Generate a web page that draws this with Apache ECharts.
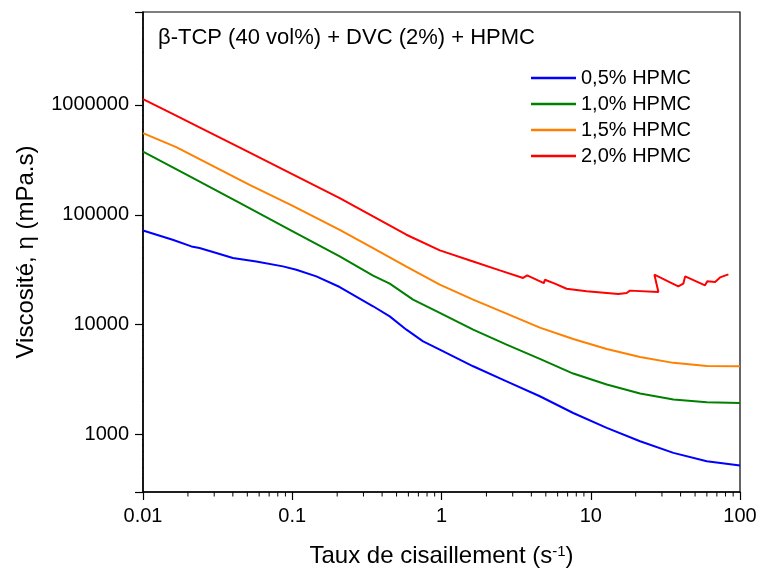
<!DOCTYPE html>
<html>
<head>
<meta charset="utf-8">
<script src="https://cdn.jsdelivr.net/npm/echarts@6/dist/echarts.min.js"></script>
<style>
html,body{margin:0;padding:0;background:#fff;}
#chart{width:758px;height:572px;}
</style>
</head>
<body>
<div id="chart"></div>
<script>
// ---- data ----
const seriesNames = ['0,5% HPMC', '1,0% HPMC', '1,5% HPMC', '2,0% HPMC'];
const seriesColors = ['#0000FF', '#008000', '#FF8000', '#FF0000'];

const shear05 = [0.01, 0.0158, 0.0211, 0.0239, 0.031, 0.040, 0.0574, 0.0866, 0.1065, 0.145, 0.208, 0.348, 0.45, 0.582, 0.753, 0.974, 1.63, 2.73, 4.56, 7.63, 12.8, 21.4, 35.8, 59.9, 100];
const visc05  = [72000, 59300, 51500, 49800, 44900, 40400, 37600, 33900, 31600, 27500, 22000, 14700, 11900, 9000, 7050, 5930, 4180, 3050, 2230, 1570, 1150, 869, 681, 571, 523];

const shear10 = [0.01, 0.02, 0.0444, 0.1, 0.208, 0.348, 0.45, 0.645, 0.974, 1.63, 2.73, 4.56, 7.63, 12.8, 21.4, 35.8, 59.9, 100];
const visc10  = [376000, 228000, 128000, 71100, 41800, 27900, 23600, 16900, 12800, 9010, 6580, 4880, 3590, 2850, 2360, 2080, 1970, 1940];

const shear15 = [0.01, 0.0167, 0.0518, 0.1, 0.208, 0.348, 0.582, 0.974, 1.63, 2.73, 4.56, 7.63, 12.8, 21.4, 35.8, 59.9, 100];
const visc15  = [553000, 412000, 187000, 121000, 73000, 49600, 33700, 23100, 16900, 12600, 9390, 7410, 6010, 5080, 4490, 4210, 4180];

const shear20 = [0.01, 0.0158, 0.0239, 0.05, 0.1, 0.208, 0.348, 0.582, 0.975, 1.63, 2.46, 3.52, 3.75, 4.85, 4.93, 5.75, 6.89, 9.39, 15.3, 17.4, 18.3, 28.4, 26.7, 34.0, 38.6, 41.7, 42.9, 58.3, 60.4, 68.1, 73.5, 83.6];
const visc20  = [1130000, 828000, 625000, 377000, 234000, 142000, 96500, 65800, 47400, 37600, 31200, 26600, 28100, 23900, 25600, 23600, 21200, 20100, 19000, 19400, 20400, 19800, 28500, 24300, 22300, 23600, 27500, 22800, 24800, 24500, 26900, 28700];

const xTickLabels = ['0.01', '0.1', '1', '10', '100'];
const yTickLabels = ['1000', '10000', '100000', '1000000'];
const minorMultipliers = [2, 3, 4, 5, 6, 7, 8, 9];

const chartTitle = 'β-TCP (40 vol%) + DVC (2%) + HPMC';
const xAxisName = 'Taux de cisaillement (s{sup|-1})';
const yAxisName = 'Viscosité, η (mPa.s)';

// ---- build ----
const FONT = "'Liberation Sans', Arial, sans-serif";
const X_MIN = 0.01, X_MAX = 100, Y_MIN = 300, Y_MAX = 7000000;
const GRID_W = 597, GRID_H = 480;
const MINOR_LEN_X = 4.5, MINOR_LEN_Y = 5;

function pickLabel(list, v) {
  for (let i = 0; i < list.length; i++) {
    const n = parseFloat(list[i]);
    if (Math.abs(Math.log(v) / Math.LN10 - Math.log(n) / Math.LN10) < 1e-6) return list[i];
  }
  return '';
}
function pairs(xs, ys) { return xs.map((x, i) => [x, ys[i]]); }

// minor tick values on each log axis
const xMinorVals = [], yMinorVals = [];
for (let d = -2; d < 2; d++) for (const m of minorMultipliers) {
  const v = +(m * Math.pow(10, d)).toPrecision(6);
  if (v > X_MIN && v < X_MAX) xMinorVals.push(v);
}
for (let d = 2; d < 7; d++) for (const m of minorMultipliers) {
  const v = m * Math.pow(10, d);
  if (v > Y_MIN && v < Y_MAX) yMinorVals.push(v);
}
// values just outside the axis lines (tick length expressed on the log scale)
const yBelowAxis = Y_MIN * Math.pow(Y_MAX / Y_MIN, -MINOR_LEN_X / GRID_H);
const xLeftOfAxis = X_MIN * Math.pow(X_MAX / X_MIN, -MINOR_LEN_Y / GRID_W);

const minorTickSeries = [];
xMinorVals.forEach(v => minorTickSeries.push({
  type: 'line', silent: true, clip: false, symbol: 'none', showSymbol: false,
  z: 3, legendHoverLink: false, animation: false,
  lineStyle: {color: '#000', width: 1}, itemStyle: {color: '#000'},
  data: [[v, Y_MIN], [v, yBelowAxis]]
}));
yMinorVals.forEach(v => minorTickSeries.push({
  type: 'line', silent: true, clip: false, symbol: 'none', showSymbol: false,
  z: 3, legendHoverLink: false, animation: false,
  lineStyle: {color: '#000', width: 1}, itemStyle: {color: '#000'},
  data: [[X_MIN, v], [xLeftOfAxis, v]]
}));

const allX = [shear05, shear10, shear15, shear20];
const allY = [visc05, visc10, visc15, visc20];

const chart = echarts.init(document.getElementById('chart'), null, {renderer: 'canvas'});
chart.setOption({
  animation: false,
  backgroundColor: '#ffffff',
  tooltip: {show: false},
  title: {
    text: chartTitle,
    left: 158, top: 27, padding: 0,
    textStyle: {fontFamily: FONT, fontSize: 22, fontWeight: 'normal', color: '#000'}
  },
  legend: {
    orient: 'vertical',
    left: 531, top: 68, padding: 0,
    itemWidth: 45, itemHeight: 2.5, itemGap: 6,
    icon: 'rect',
    textStyle: {fontFamily: FONT, fontSize: 20, color: '#000', lineHeight: 20},
    data: seriesNames
  },
  grid: {
    left: 143, top: 12, width: GRID_W, height: GRID_H,
    show: true, borderColor: '#000', borderWidth: 1.2,
    outerBoundsMode: 'none'
  },
  xAxis: {
    type: 'log', min: X_MIN, max: X_MAX,
    name: xAxisName, nameLocation: 'middle', nameGap: 52,
    nameTextStyle: {fontFamily: FONT, fontSize: 24, color: '#000',
      rich: {sup: {fontFamily: FONT, fontSize: 15, verticalAlign: 'top', color: '#000', padding: [0, 0, 10, 0]}}},
    axisLine: {show: true, lineStyle: {color: '#000', width: 1.5}},
    axisTick: {show: true, length: 8, lineStyle: {color: '#000', width: 1.2}},
    axisLabel: {fontFamily: FONT, fontSize: 20, color: '#000', margin: 14,
      formatter: v => pickLabel(xTickLabels, v)},
    splitLine: {show: false}
  },
  yAxis: {
    type: 'log', min: Y_MIN, max: Y_MAX,
    name: yAxisName, nameLocation: 'middle', nameGap: 105, nameRotate: 90,
    nameTextStyle: {fontFamily: FONT, fontSize: 24, color: '#000'},
    axisLine: {show: true, lineStyle: {color: '#000', width: 1.5}},
    axisTick: {show: true, length: 8, lineStyle: {color: '#000', width: 1.2}},
    axisLabel: {fontFamily: FONT, fontSize: 20, color: '#000', margin: 14,
      formatter: v => pickLabel(yTickLabels, v)},
    splitLine: {show: false}
  },
  series: seriesNames.map((name, i) => ({
    name: name,
    type: 'line',
    data: pairs(allX[i], allY[i]),
    showSymbol: false,
    symbol: 'none',
    lineStyle: {color: seriesColors[i], width: 2},
    itemStyle: {color: seriesColors[i]}
  })).concat(minorTickSeries)
});
</script>
</body>
</html>
